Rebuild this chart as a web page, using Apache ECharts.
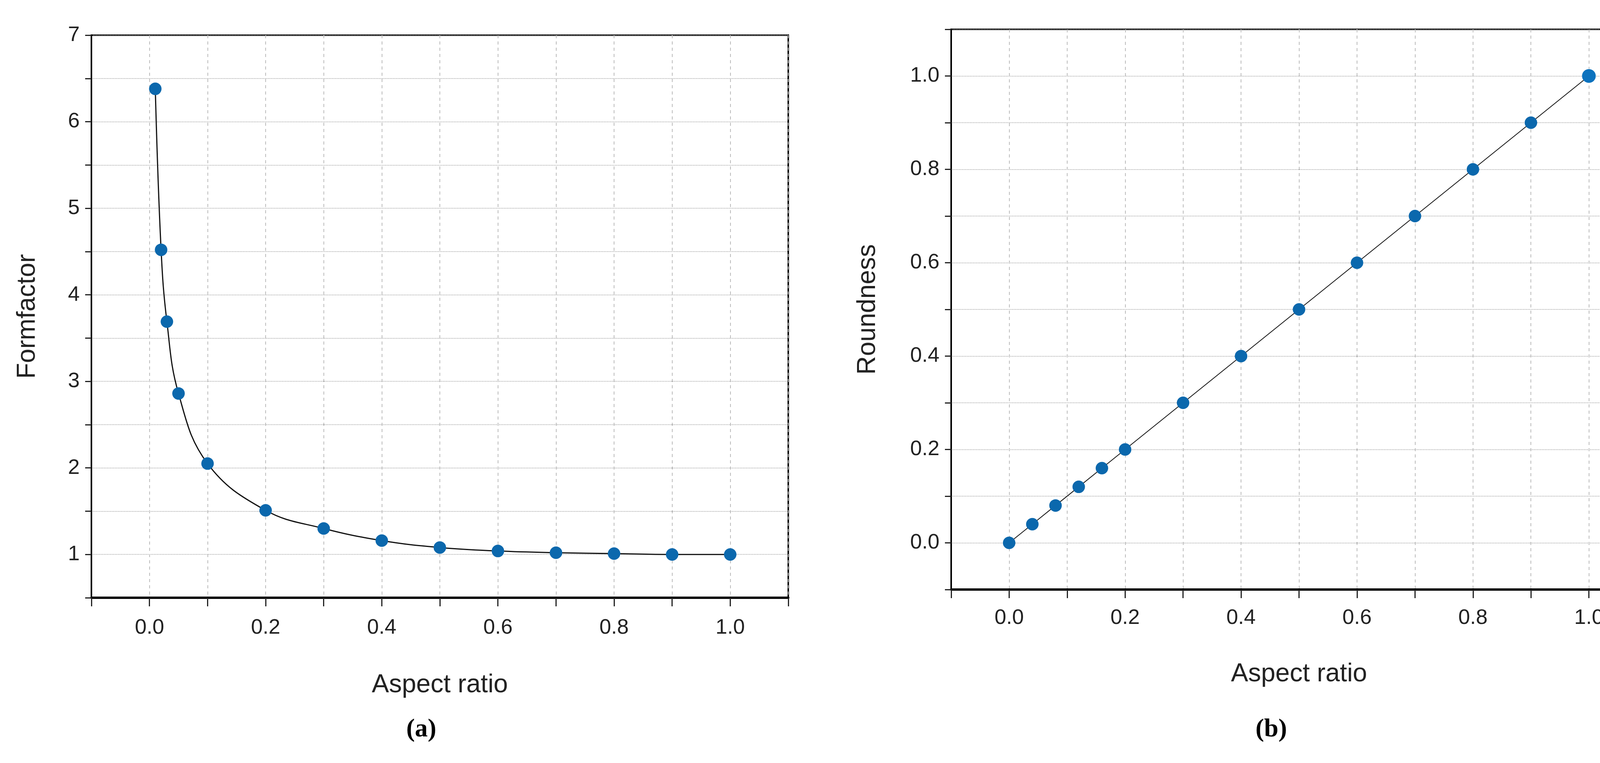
<!DOCTYPE html><html><head><meta charset="utf-8"><script src="https://cdn.jsdelivr.net/npm/echarts@6/dist/echarts.min.js"></script>
<style>html,body{margin:0;background:#fff;overflow:hidden}#c{width:4244px;height:1953px}</style></head><body><div id="c"></div><script>
const xA=[0.01,0.02,0.03,0.05,0.1,0.2,0.3,0.4,0.5,0.6,0.7,0.8,0.9,1.0];
const yA=[6.38,4.52,3.69,2.86,2.05,1.51,1.30,1.16,1.08,1.04,1.02,1.01,1.00,1.00];
const xB=[0,0.04,0.08,0.12,0.16,0.2,0.3,0.4,0.5,0.6,0.7,0.8,0.9,1.0];
const yB=[0,0.04,0.08,0.12,0.16,0.2,0.3,0.4,0.5,0.6,0.7,0.8,0.9,1.0];
const ch=echarts.init(document.getElementById('c'));
const F='Arial, Liberation Sans, sans-serif';
const grid=(l,t,w,h)=>({left:l,top:t,width:w,height:h,show:true,borderColor:'#000',borderWidth:4});
const gl={show:true,lineStyle:{color:'#aaa',type:'dotted',width:2}};
const lab=v=>{const k=Math.round(v*10);return (k>=0&&k<=10&&k%2===0)?(k/10).toFixed(1):'';};
function xAx(i){return {type:'value',gridIndex:i,min:-0.1,max:1.1,interval:0.1,
 name:'Aspect ratio',nameLocation:'middle',nameGap:i?184:191,nameTextStyle:{fontFamily:F,fontSize:66,color:'#222'},
 axisLine:{show:true,onZero:false,lineStyle:{color:'#000',width:6}},axisTick:{show:true,length:22,lineStyle:{width:3,color:'#222'}},
 axisLabel:{fontFamily:F,fontSize:54,color:'#222',margin:i?46:50,formatter:lab},
 splitLine:{show:true,lineStyle:{color:'#bbb',type:[8,8],width:2}}};}
function yAx(i,o){return Object.assign({type:'value',gridIndex:i,nameLocation:'middle',
  nameTextStyle:{fontFamily:F,fontSize:66,color:'#222'},
  axisLine:{show:true,onZero:false,lineStyle:{color:'#000',width:3}},axisTick:{show:true,length:16,lineStyle:{width:3,color:'#222'}},
  axisLabel:{fontFamily:F,fontSize:54,color:'#222',margin:30},splitLine:gl},o);}
ch.setOption({
 grid:[grid(234,90,1784,1440),grid(2435,75,1781,1434)],
 xAxis:[xAx(0),xAx(1)],
 yAxis:[yAx(0,{min:0.5,max:7,interval:0.5,name:'Formfactor',nameGap:130,axisLabel:{fontFamily:F,fontSize:54,color:'#222',margin:30,formatter:v=>Number.isInteger(v)?String(v):''}}),
  yAx(1,{min:-0.1,max:1.1,interval:0.1,name:'Roundness',nameGap:180,axisLabel:{fontFamily:F,fontSize:54,color:'#222',margin:30,formatter:lab}})],
 series:[{type:'line',xAxisIndex:0,yAxisIndex:0,data:xA.map((x,i)=>[x,yA[i]]),smooth:0.4,symbol:'circle',symbolSize:32,
   lineStyle:{color:'#111',width:3},itemStyle:{color:'#0b68ad'}},
  {type:'line',xAxisIndex:1,yAxisIndex:1,data:xB.map((x,i)=>[x,yB[i]]),symbol:'circle',symbolSize:32,
   lineStyle:{color:'#111',width:2},itemStyle:{color:'#0b68ad'}}],
 graphic:[{type:'text',left:1040,top:1835,style:{text:'(a)',font:'bold 66px "Liberation Serif", serif',fill:'#000'}},
  {type:'text',left:3214,top:1835,style:{text:'(b)',font:'bold 66px "Liberation Serif", serif',fill:'#000'}}]
});
</script></body></html>
